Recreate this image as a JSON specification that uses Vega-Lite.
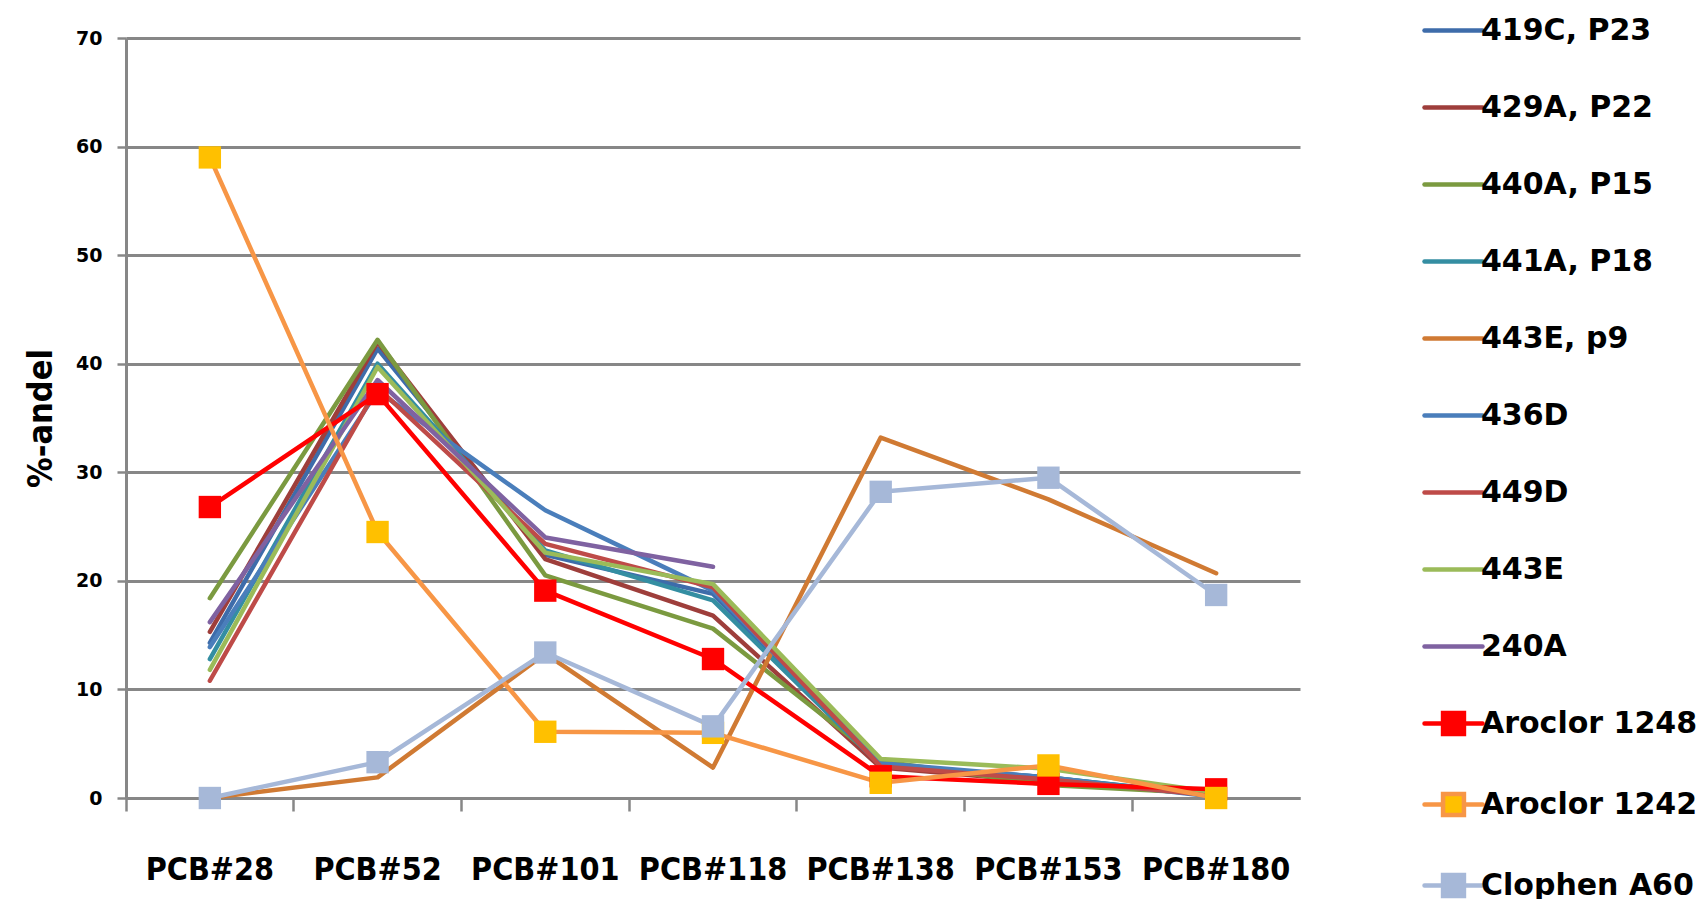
{
  "$schema": "https://vega.github.io/schema/vega-lite/v6.json",
  "width": 1174,
  "height": 760,
  "autosize": "none",
  "padding": {"left": 126, "top": 38, "right": 407, "bottom": 101},
  "background": "white",
  "config": {"view": {"stroke": null}},
  "data": {"values": [
    {"s": "419C, P23", "pcb": "PCB#28", "v": 14.3},
    {"s": "419C, P23", "pcb": "PCB#52", "v": 41.4},
    {"s": "419C, P23", "pcb": "PCB#101", "v": 22.4},
    {"s": "419C, P23", "pcb": "PCB#118", "v": 18.8},
    {"s": "419C, P23", "pcb": "PCB#138", "v": 3.0},
    {"s": "419C, P23", "pcb": "PCB#153", "v": 1.9},
    {"s": "419C, P23", "pcb": "PCB#180", "v": 0.2},
    {"s": "429A, P22", "pcb": "PCB#28", "v": 15.3},
    {"s": "429A, P22", "pcb": "PCB#52", "v": 42.0},
    {"s": "429A, P22", "pcb": "PCB#101", "v": 22.0},
    {"s": "429A, P22", "pcb": "PCB#118", "v": 16.8},
    {"s": "429A, P22", "pcb": "PCB#138", "v": 2.8},
    {"s": "429A, P22", "pcb": "PCB#153", "v": 1.5},
    {"s": "429A, P22", "pcb": "PCB#180", "v": 0.3},
    {"s": "440A, P15", "pcb": "PCB#28", "v": 18.4},
    {"s": "440A, P15", "pcb": "PCB#52", "v": 42.2},
    {"s": "440A, P15", "pcb": "PCB#101", "v": 20.5},
    {"s": "440A, P15", "pcb": "PCB#118", "v": 15.6},
    {"s": "440A, P15", "pcb": "PCB#138", "v": 3.4},
    {"s": "440A, P15", "pcb": "PCB#153", "v": 1.2},
    {"s": "440A, P15", "pcb": "PCB#180", "v": 0.4},
    {"s": "441A, P18", "pcb": "PCB#28", "v": 12.8},
    {"s": "441A, P18", "pcb": "PCB#52", "v": 40.0},
    {"s": "441A, P18", "pcb": "PCB#101", "v": 22.8},
    {"s": "441A, P18", "pcb": "PCB#118", "v": 18.2},
    {"s": "441A, P18", "pcb": "PCB#138", "v": 3.0},
    {"s": "441A, P18", "pcb": "PCB#153", "v": 1.9},
    {"s": "441A, P18", "pcb": "PCB#180", "v": 0.2},
    {"s": "443E, p9", "pcb": "PCB#28", "v": 0.0},
    {"s": "443E, p9", "pcb": "PCB#52", "v": 1.9},
    {"s": "443E, p9", "pcb": "PCB#101", "v": 13.3},
    {"s": "443E, p9", "pcb": "PCB#118", "v": 2.8},
    {"s": "443E, p9", "pcb": "PCB#138", "v": 33.2},
    {"s": "443E, p9", "pcb": "PCB#153", "v": 27.5},
    {"s": "443E, p9", "pcb": "PCB#180", "v": 20.7},
    {"s": "436D", "pcb": "PCB#28", "v": 13.9},
    {"s": "436D", "pcb": "PCB#52", "v": 37.5},
    {"s": "436D", "pcb": "PCB#101", "v": 26.5},
    {"s": "436D", "pcb": "PCB#118", "v": 19.1},
    {"s": "436D", "pcb": "PCB#138", "v": 3.2},
    {"s": "436D", "pcb": "PCB#153", "v": 1.9},
    {"s": "436D", "pcb": "PCB#180", "v": 0.1},
    {"s": "449D", "pcb": "PCB#28", "v": 10.8},
    {"s": "449D", "pcb": "PCB#52", "v": 37.8},
    {"s": "449D", "pcb": "PCB#101", "v": 23.4},
    {"s": "449D", "pcb": "PCB#118", "v": 19.4},
    {"s": "449D", "pcb": "PCB#138", "v": 2.9},
    {"s": "449D", "pcb": "PCB#153", "v": 1.7},
    {"s": "449D", "pcb": "PCB#180", "v": 0.2},
    {"s": "443E", "pcb": "PCB#28", "v": 11.8},
    {"s": "443E", "pcb": "PCB#52", "v": 39.7},
    {"s": "443E", "pcb": "PCB#101", "v": 22.6},
    {"s": "443E", "pcb": "PCB#118", "v": 19.7},
    {"s": "443E", "pcb": "PCB#138", "v": 3.6},
    {"s": "443E", "pcb": "PCB#153", "v": 2.7},
    {"s": "443E", "pcb": "PCB#180", "v": 0.5},
    {"s": "240A", "pcb": "PCB#28", "v": 16.2},
    {"s": "240A", "pcb": "PCB#52", "v": 38.5},
    {"s": "240A", "pcb": "PCB#101", "v": 24.0},
    {"s": "240A", "pcb": "PCB#118", "v": 21.3},
    {"s": "Aroclor 1248", "pcb": "PCB#28", "v": 26.8},
    {"s": "Aroclor 1248", "pcb": "PCB#52", "v": 37.2},
    {"s": "Aroclor 1248", "pcb": "PCB#101", "v": 19.1},
    {"s": "Aroclor 1248", "pcb": "PCB#118", "v": 12.8},
    {"s": "Aroclor 1248", "pcb": "PCB#138", "v": 2.0},
    {"s": "Aroclor 1248", "pcb": "PCB#153", "v": 1.3},
    {"s": "Aroclor 1248", "pcb": "PCB#180", "v": 0.8},
    {"s": "Aroclor 1242", "pcb": "PCB#28", "v": 59.0},
    {"s": "Aroclor 1242", "pcb": "PCB#52", "v": 24.5},
    {"s": "Aroclor 1242", "pcb": "PCB#101", "v": 6.1},
    {"s": "Aroclor 1242", "pcb": "PCB#118", "v": 6.0},
    {"s": "Aroclor 1242", "pcb": "PCB#138", "v": 1.4},
    {"s": "Aroclor 1242", "pcb": "PCB#153", "v": 3.0},
    {"s": "Aroclor 1242", "pcb": "PCB#180", "v": 0.0},
    {"s": "Clophen A60", "pcb": "PCB#28", "v": 0.0},
    {"s": "Clophen A60", "pcb": "PCB#52", "v": 3.3},
    {"s": "Clophen A60", "pcb": "PCB#101", "v": 13.4},
    {"s": "Clophen A60", "pcb": "PCB#118", "v": 6.6},
    {"s": "Clophen A60", "pcb": "PCB#138", "v": 28.2},
    {"s": "Clophen A60", "pcb": "PCB#153", "v": 29.5},
    {"s": "Clophen A60", "pcb": "PCB#180", "v": 18.7}
  ]},
  "encoding": {
    "x": {
      "field": "pcb", "type": "nominal",
      "sort": ["PCB#28", "PCB#52", "PCB#101", "PCB#118", "PCB#138", "PCB#153", "PCB#180"],
      "scale": {"type": "band", "domain": ["PCB#28", "PCB#52", "PCB#101", "PCB#118", "PCB#138", "PCB#153", "PCB#180"], "paddingInner": 0, "paddingOuter": 0},
      "axis": {
        "title": null, "labelAngle": 0, "bandPosition": 0, "grid": false,
        "domainColor": "#878787", "domainWidth": 3,
        "tickColor": "#878787", "tickWidth": 2.5, "tickSize": 13,
        "labelFont": "DejaVu Sans Condensed", "labelFontWeight": "bold", "labelFontSize": 32,
        "labelColor": "black", "labelPadding": 43
      }
    },
    "y": {
      "field": "v", "type": "quantitative",
      "scale": {"domain": [0, 70], "nice": false, "zero": true},
      "axis": {
        "title": "%-andel", "values": [0, 10, 20, 30, 40, 50, 60, 70],
        "grid": true, "gridColor": "#878787", "gridWidth": 3,
        "domainColor": "#878787", "domainWidth": 3,
        "tickColor": "#878787", "tickWidth": 2.5, "tickSize": 9,
        "labelFont": "DejaVu Sans", "labelFontWeight": "bold", "labelFontSize": 19,
        "labelColor": "black", "labelPadding": 15,
        "titleFont": "DejaVu Sans Condensed", "titleFontWeight": "bold", "titleFontSize": 34,
        "titleColor": "black", "titlePadding": 17
      }
    }
  },
  "layer": [
    {
      "mark": {"type": "line", "strokeWidth": 4.5, "strokeJoin": "round", "strokeCap": "round"},
      "encoding": {
        "color": {
          "field": "s", "type": "nominal",
          "scale": {
            "domain": ["419C, P23", "429A, P22", "440A, P15", "441A, P18", "443E, p9", "436D", "449D", "443E", "240A", "Aroclor 1248", "Aroclor 1242", "Clophen A60"],
            "range": ["#3E6CAA", "#9E3E3B", "#7B9A40", "#348EA2", "#D07A33", "#4A7EBB", "#BE4B48", "#9BBB59", "#7F62A1", "#FF0000", "#F79646", "#A6B8D8"]
          },
          "legend": {
            "title": null, "orient": "none", "legendX": 1296, "legendY": -39,
            "padding": 0, "symbolSize": 3364, "rowPadding": 30, "labelOffset": -4,
            "labelFont": "DejaVu Sans", "labelFontWeight": "bold", "labelFontSize": 30,
            "labelColor": "black", "labelLimit": 500,
            "encode": {
              "symbols": {
                "update": {
                  "shape": {"signal": "indexof(['Aroclor 1248','Aroclor 1242','Clophen A60'], datum.value) >= 0 ? 'M-1,0H-0.38M0.38,0H1M-0.36,-0.36H0.36V0.36H-0.36Z' : 'M-1,0H1'"},
                  "fill": {"signal": "datum.value === 'Aroclor 1242' ? '#FFC000' : scale('color', datum.value)"},
                  "stroke": {"signal": "scale('color', datum.value)"},
                  "strokeWidth": {"value": 4.5},
                  "strokeCap": {"value": "round"},
                  "size": {"value": 3364},
                  "opacity": {"value": 1},
                  "fillOpacity": {"value": 1},
                  "strokeOpacity": {"value": 1}
                }
              }
            }
          }
        }
      }
    },
    {
      "transform": [{"filter": {"field": "s", "oneOf": ["Aroclor 1248", "Aroclor 1242", "Clophen A60"]}}],
      "mark": {"type": "point", "shape": "square", "filled": true, "size": 500, "opacity": 1, "strokeWidth": 0},
      "encoding": {
        "fill": {
          "field": "s", "type": "nominal",
          "scale": {"domain": ["Aroclor 1248", "Aroclor 1242", "Clophen A60"], "range": ["#FF0000", "#FFC000", "#A6B8D8"]},
          "legend": null
        }
      }
    }
  ]
}
